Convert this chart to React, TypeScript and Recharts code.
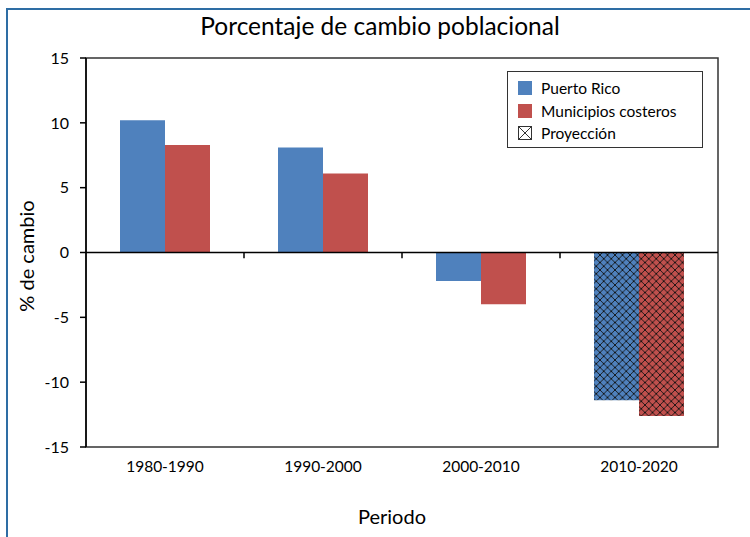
import React from 'react';
import { BarChart, Bar, XAxis, YAxis, Cell, ReferenceLine, ReferenceArea } from 'recharts';

const periods = ['1980-1990', '1990-2000', '2000-2010', '2010-2020'];
const puertoRico = [10.2, 8.1, -2.2, -11.4];
const municipios = [8.3, 6.1, -4.0, -12.6];
const projected = [false, false, false, true];
const yTicks = [-15, -10, -5, 0, 5, 10, 15];
const seriesNames = ['Puerto Rico', 'Municipios costeros', 'Proyección'];

const data = periods.map((p, i) => ({ periodo: p, pr: puertoRico[i], mun: municipios[i], proj: projected[i] }));

const BLUE = '#4f81bd';
const RED = '#c0504d';
const FONT = 'Lato, "DejaVu Sans", sans-serif';

const LegendBox = () => (
  <div
    style={{
      position: 'absolute',
      left: 507,
      top: 71,
      width: 196,
      height: 77,
      boxSizing: 'border-box',
      border: '1.5px solid #333',
      background: '#fff',
      fontFamily: FONT,
      fontSize: 15.5,
      color: '#000',
      padding: '5px 0 0 10px',
    }}
  >
    {seriesNames.map((n, i) => (
      <div key={n} style={{ display: 'flex', alignItems: 'center', height: 22.5 }}>
        {i < 2 ? (
          <div style={{ width: 14, height: 14, background: i === 0 ? BLUE : RED, marginRight: 9 }} />
        ) : (
          <svg width={14} height={14} style={{ marginRight: 9 }}>
            <rect x={0.5} y={0.5} width={13} height={13} fill="#fff" stroke="#333" strokeWidth={1} />
            <path d="M0.5,0.5 L13.5,13.5 M13.5,0.5 L0.5,13.5" stroke="#333" strokeWidth={1} />
          </svg>
        )}
        <span>{n}</span>
      </div>
    ))}
  </div>
);

export default function App() {
  return (
    <div style={{ position: 'absolute', left: 0, top: 0, width: 750, height: 537, background: '#fff', overflow: 'hidden' }}>
      <div
        style={{
          position: 'absolute',
          left: 6,
          top: 8,
          width: 744,
          height: 529,
          boxSizing: 'border-box',
          borderTop: '2px solid #2e6da4',
          borderLeft: '2px solid #2e6da4',
        }}
      />
      <div style={{ position: 'absolute', left: 0, top: 0 }}>
        <BarChart
          width={750}
          height={537}
          data={data}
          margin={{ top: 58, right: 32, bottom: 60, left: 0 }}
          barGap={0}
          barSize={45}
          style={{ fontFamily: FONT }}
        >
          <defs>
            <pattern id="hatchBlue" width={7.5} height={7.5} patternUnits="userSpaceOnUse">
              <rect width={7.5} height={7.5} fill={BLUE} />
              <path d="M0,0 L7.5,7.5 M7.5,0 L0,7.5" stroke="#111" strokeWidth={0.9} />
            </pattern>
            <pattern id="hatchRed" width={7.5} height={7.5} patternUnits="userSpaceOnUse">
              <rect width={7.5} height={7.5} fill={RED} />
              <path d="M0,0 L7.5,7.5 M7.5,0 L0,7.5" stroke="#111" strokeWidth={0.9} />
            </pattern>
          </defs>
          <XAxis
            dataKey="periodo"
            height={30}
            axisLine={false}
            tickLine={false}
            tickSize={6}
            tickMargin={8}
            tick={{ fill: '#000', fontSize: 15.5 }}
            interval={0}
          />
          <YAxis
            width={86}
            domain={[-15, 15]}
            ticks={yTicks}
            interval={0}
            axisLine={{ stroke: '#000', strokeWidth: 1.5 }}
            tickLine={{ stroke: '#000', strokeWidth: 1.5 }}
            tickSize={6}
            tickMargin={11}
            tick={{ fill: '#000', fontSize: 16 }}
          />
          <ReferenceArea y1={-15} y2={15} fill="none" stroke="#333" strokeWidth={1.5} fillOpacity={0} />
          <Bar dataKey="pr" name={seriesNames[0]} fill={BLUE} isAnimationActive={false}>
            {data.map((d, i) => (
              <Cell key={i} fill={d.proj ? 'url(#hatchBlue)' : BLUE} />
            ))}
          </Bar>
          <Bar dataKey="mun" name={seriesNames[1]} fill={RED} isAnimationActive={false}>
            {data.map((d, i) => (
              <Cell key={i} fill={d.proj ? 'url(#hatchRed)' : RED} />
            ))}
          </Bar>
          <ReferenceLine y={0} stroke="#000" strokeWidth={1.5} />
          {periods.slice(1).map((p) => (
            <ReferenceLine
              key={p}
              segment={[
                { x: p, y: 0 },
                { x: p, y: -0.45 },
              ]}
              position="start"
              stroke="#000"
              strokeWidth={1.5}
            />
          ))}
        </BarChart>
      </div>
      <LegendBox />
      <div
        style={{
          position: 'absolute',
          left: 0,
          width: 760,
          top: 11,
          textAlign: 'center',
          fontFamily: FONT,
          fontSize: 24.5,
          color: '#000',
        }}
      >
        Porcentaje de cambio poblacional
      </div>
      <div
        style={{
          position: 'absolute',
          left: 392 - 100,
          width: 200,
          top: 504,
          textAlign: 'center',
          fontFamily: FONT,
          fontSize: 20,
          color: '#000',
        }}
      >
        Periodo
      </div>
      <div
        style={{
          position: 'absolute',
          left: 26 - 80,
          top: 256 - 12,
          width: 160,
          height: 24,
          textAlign: 'center',
          lineHeight: '24px',
          transform: 'rotate(-90deg)',
          fontFamily: FONT,
          fontSize: 20,
          color: '#000',
        }}
      >
        % de cambio
      </div>
    </div>
  );
}
